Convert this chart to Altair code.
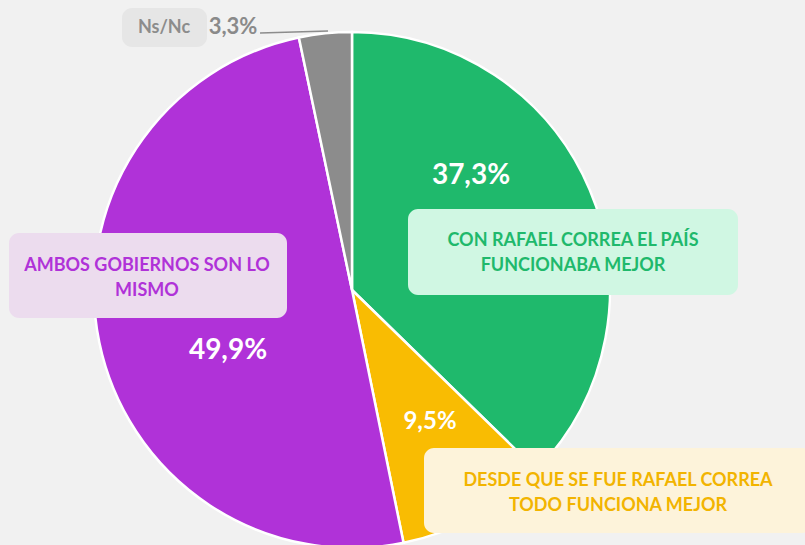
import altair as alt
import pandas as pd

# ---- data ----
categories = [
    "CON RAFAEL CORREA EL PAÍS FUNCIONABA MEJOR",
    "DESDE QUE SE FUE RAFAEL CORREA TODO FUNCIONA MEJOR",
    "AMBOS GOBIERNOS SON LO MISMO",
    "Ns/Nc",
]
values = [37.3, 9.5, 49.9, 3.3]
pct_labels = ["37,3%", "9,5%", "49,9%", "3,3%"]
box_labels = [
    "CON RAFAEL CORREA EL PAÍS\nFUNCIONABA MEJOR",
    "DESDE QUE SE FUE RAFAEL CORREA\nTODO FUNCIONA MEJOR",
    "AMBOS GOBIERNOS SON LO\nMISMO",
    "Ns/Nc",
]

# ---- styles / layout ----
slice_colors = ["#1fb96c", "#f9bc02", "#b032d8", "#8c8c8c"]
text_colors = ["#1fb96c", "#f2b400", "#b032d8", "#8c8c8c"]
box_bg = ["#d0f7e3", "#fdf3da", "#ecdcee", "#e6e6e6"]
BG = "#f1f1f1"
CX, CY, R = 352, 290, 258

# label boxes (x0, x1, y0, y1) and text anchor (first line)
box_x0 = [408, 424, 9, 122]
box_x1 = [738, 812, 287, 207]
box_y0 = [209, 448, 233, 8]
box_y1 = [295, 533, 318, 47]
box_tx = [573, 618, 147, 164]
box_ty = [241, 481, 266, 28]
box_fs = [18, 18, 18, 18]

pct_x = [471, 430, 228, 233]
pct_y = [176, 422, 351, 27]
pct_fs = [28, 24, 28, 22]
pct_col = ["white", "white", "white", "#8a8a8a"]

pie_df = pd.DataFrame({"cat": categories, "val": values, "order": range(4)})
box_df = pd.DataFrame({
    "x0": box_x0, "x1": box_x1, "y0": box_y0, "y1": box_y1,
    "bg": box_bg, "tx": box_tx, "ty": box_ty, "label": box_labels,
    "tc": text_colors, "fs": box_fs,
})
pct_df = pd.DataFrame({"x": pct_x, "y": pct_y, "label": pct_labels,
                       "c": pct_col, "fs": pct_fs})

pie = alt.Chart(pie_df).mark_arc(
    radius=R, stroke="white", strokeWidth=2.5, x=CX, y=CY
).encode(
    theta=alt.Theta("val:Q", stack=True),
    order=alt.Order("order:Q"),
    color=alt.Color("cat:N", scale=alt.Scale(domain=categories, range=slice_colors), legend=None),
)

leader = alt.Chart(pie_df.iloc[[3]]).mark_rule(color="#8c8c8c", strokeWidth=1.5).encode(
    x=alt.value(260), y=alt.value(33), x2=alt.value(328), y2=alt.value(31)
)

boxes = alt.Chart(box_df).mark_rect(cornerRadius=10).encode(
    x=alt.X("x0:Q", scale=None), x2="x1:Q",
    y=alt.Y("y0:Q", scale=None), y2="y1:Q",
    color=alt.Color("bg:N", scale=None),
)

box_text = alt.Chart(box_df).mark_text(
    font="Lato", fontWeight="bold", lineBreak="\n", lineHeight=25,
    align="center", baseline="middle",
).encode(
    x=alt.X("tx:Q", scale=None), y=alt.Y("ty:Q", scale=None),
    text="label:N", color=alt.Color("tc:N", scale=None),
    size=alt.Size("fs:Q", scale=None),
)

pct_text = alt.Chart(pct_df).mark_text(
    font="Lato", fontWeight="bold", align="center", baseline="middle",
).encode(
    x=alt.X("x:Q", scale=None), y=alt.Y("y:Q", scale=None),
    text="label:N", color=alt.Color("c:N", scale=None),
    size=alt.Size("fs:Q", scale=None),
)

chart = alt.layer(pie, leader, boxes, box_text, pct_text).properties(
    width=805, height=545, background=BG, padding=0,
    autosize=alt.AutoSizeParams(type="none"),
).configure_view(stroke=None)


class _Tpl:
    def render(self, **kw):
        from altair.utils.html import HTML_TEMPLATE
        html = HTML_TEMPLATE.render(**kw)
        style = "<style>html,body{margin:0;padding:0;background:%s;overflow:hidden}</style>" % BG
        if "<head>" in html:
            return html.replace("<head>", "<head>" + style, 1)
        return style + html


try:
    chart.save("out.html", embed_options={"renderer": "svg", "actions": False}, template=_Tpl())
except Exception:
    chart.save("out.html", embed_options={"renderer": "svg", "actions": False})
